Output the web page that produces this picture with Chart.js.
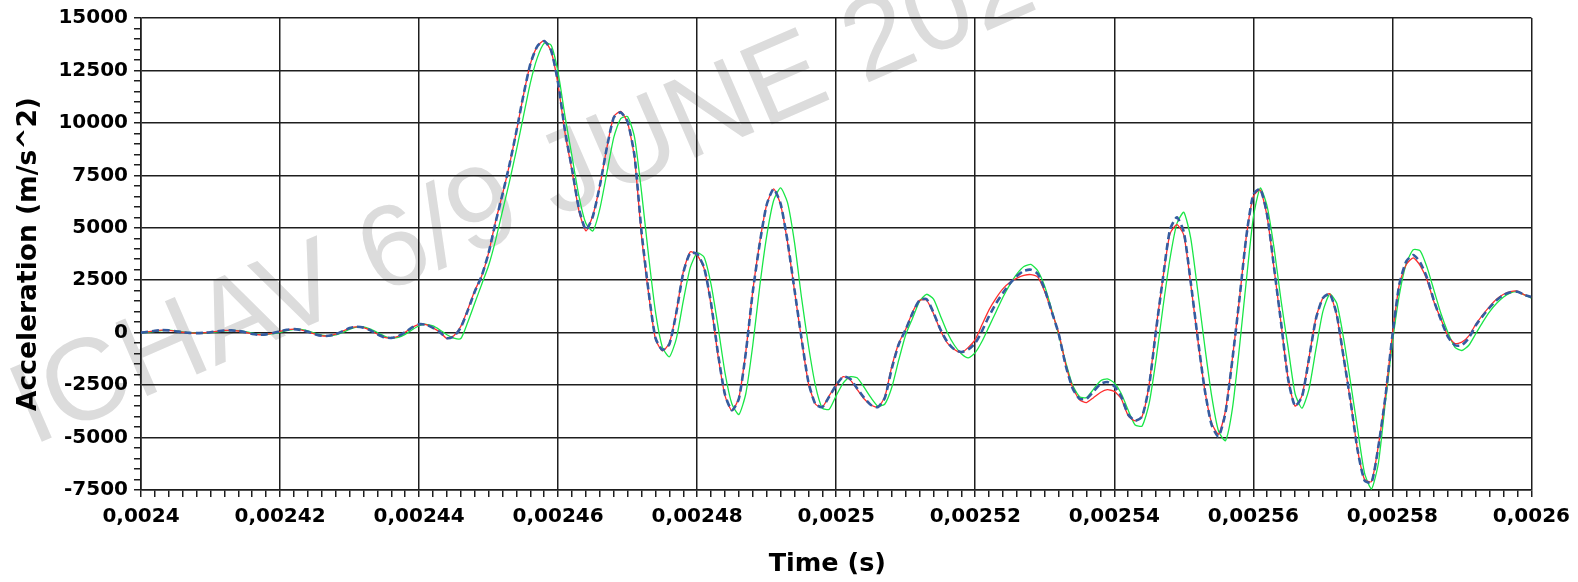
<!DOCTYPE html>
<html>
<head>
<meta charset="utf-8">
<script src="https://cdn.jsdelivr.net/npm/chart.js@4"></script>
<style>
  html, body { margin: 0; padding: 0; background: #fff; }
  #wrap { width: 1578px; height: 582px; }
</style>
</head>
<body>
<div id="wrap"><canvas id="accChart"></canvas></div>
<script>
// samples every 1 microsecond from 0.0024 s to 0.0026 s
var tStart = 0.0024;
var tStep = 0.000001;

var red = [
  0, 40, 90, 120, 110, 70, 20, -10, -20, -10,
  20, 70, 105, 110, 80, 20, -60, -100, -80, -20,
  60, 140, 170, 130, 40, -70, -150, -150, -70, 70,
  220, 280, 240, 110, -70, -220, -250, -170, 20, 250,
  400, 380, 230, 20, -280, -150, 300, 1100, 2000, 2700,
  3800, 5300, 6600, 8000, 9600, 11300, 12800, 13650, 13920, 13400,
  11800, 9500, 7700, 5800, 4850, 5600, 7000, 8800, 10300, 10550,
  10000, 8300, 4600, 1900, -300, -870, -500, 1000, 2900, 3850,
  3700, 3050, 1300, -1100, -3000, -3720, -3100, -900, 2000, 4300,
  6100, 6850, 6100, 4300, 2000, -300, -2400, -3400, -3550, -3000,
  -2500, -2100, -2250, -2700, -3150, -3450, -3560, -3050, -1600, -500,
  160, 1000, 1550, 1550, 900, 100, -500, -800, -950, -700,
  -320, 400, 1100, 1650, 2100, 2400, 2600, 2730, 2770, 2650,
  1950, 1000, 0, -1500, -2600, -3200, -3330, -3100, -2850, -2720,
  -2800, -3150, -3950, -4200, -4000, -2500, 200, 2600, 4700, 5150,
  4650, 2300, -300, -2700, -4300, -4840, -3700, -1200, 1600, 4600,
  6500, 6800, 5500, 3000, 400, -2200, -3500, -3000, -1200, 700,
  1650, 1850, 800, -1250, -3300, -5600, -7000, -7100, -5350, -3000,
  -100, 2300, 3250, 3570, 3200, 2500, 1450, 630, -160, -520,
  -450, -150, 400, 850, 1250, 1600, 1830, 1960, 1980, 1800,
  1700
];

var blue = [
  0, 40, 90, 120, 110, 70, 20, -10, -20, -10,
  20, 70, 105, 110, 80, 20, -60, -100, -80, -20,
  60, 140, 170, 130, 40, -70, -150, -150, -70, 70,
  220, 280, 240, 110, -70, -220, -250, -170, 20, 250,
  400, 380, 230, 20, -260, -180, 250, 1050, 1950, 2700,
  3800, 5250, 6600, 8000, 9600, 11300, 12800, 13650, 13900, 13450,
  11900, 9600, 7800, 5900, 4900, 5550, 7000, 8800, 10250, 10500,
  10050, 8400, 4800, 2000, -250, -820, -550, 950, 2850, 3800,
  3750, 3100, 1400, -1000, -2950, -3700, -3150, -950, 1950, 4250,
  6100, 6850, 6150, 4350, 2050, -250, -2350, -3400, -3550, -3050,
  -2500, -2100, -2200, -2650, -3100, -3450, -3550, -3100, -1700, -550,
  150, 950, 1550, 1600, 950, 150, -450, -800, -920, -800,
  -500, 100, 800, 1400, 1900, 2350, 2700, 2950, 3000, 2800,
  2050, 1000, -50, -1550, -2650, -3150, -3150, -2800, -2450, -2350,
  -2550, -3050, -3900, -4200, -4000, -2550, 100, 2600, 4900, 5500,
  4800, 2400, -250, -2700, -4400, -4950, -3800, -1250, 1600, 4600,
  6600, 6850, 5600, 3050, 450, -2200, -3500, -3050, -1250, 650,
  1650, 1850, 850, -1200, -3300, -5600, -7050, -7150, -5400, -3050,
  -150, 2300, 3400, 3700, 3350, 2600, 1500, 600, -200, -600,
  -600, -250, 350, 800, 1200, 1550, 1800, 1930, 1950, 1800,
  1700
];

var green = [
  0, 20, 60, 100, 120, 90, 40, 0, -20, -20,
  0, 40, 90, 110, 100, 50, -20, -80, -90, -50,
  20, 100, 160, 160, 90, -20, -120, -160, -110, 10,
  160, 260, 270, 170, 10, -160, -260, -230, -80, 140,
  330, 400, 320, 130, -100, -260, -280, 500, 1400, 2300,
  3200, 4400, 5800, 7200, 8700, 10300, 11900, 13100, 13800, 13700,
  12400, 10300, 8400, 6500, 5200, 4850, 5900, 7600, 9300, 10200,
  10300, 9300, 6700, 3700, 1000, -700, -1150, -300, 1500, 3100,
  3800, 3600, 2300, 300, -1900, -3400, -3900, -2900, -600, 2200,
  4600, 6300, 6900, 6200, 4300, 1700, -600, -2500, -3600, -3650,
  -3000, -2400, -2100, -2150, -2600, -3100, -3500, -3400, -2600, -1300,
  -100, 700, 1500, 1830, 1600, 800, 0, -600, -1000, -1200,
  -950, -400, 300, 1000, 1700, 2300, 2800, 3150, 3250, 2950,
  2200, 1100, -100, -1400, -2500, -3050, -3100, -2700, -2300, -2200,
  -2400, -2900, -3700, -4400, -4450, -3400, -1300, 1200, 3500, 5200,
  5740, 4500, 2000, -600, -3000, -4700, -5150, -3600, -700, 2500,
  5500, 6900, 6000, 4000, 1500, -700, -2900, -3600, -2700, -800,
  1000, 1850, 1400, -300, -2400, -4600, -6700, -7450, -6200, -3300,
  -500, 1800, 3300, 3950, 3900, 3100, 2000, 900, 0, -700,
  -850, -600, -50, 500, 1000, 1400, 1700, 1900, 1950, 1800,
  1650
];

var xMajorStep = 0.00002;
var yMajorStep = 2500;

function toPoints(arr) {
  return arr.map(function (v, i) { return { x: tStart + i * tStep, y: v }; });
}

function isMajorX(v) {
  var r = v / xMajorStep;
  return Math.abs(r - Math.round(r)) < 1e-4;
}

function fmtX(v) {
  return String(Number(v.toFixed(5))).replace('.', ',');
}

var watermark = {
  id: 'watermark',
  beforeDraw: function (chart) {
    var ctx = chart.ctx;
    ctx.save();
    ctx.translate(32, 446);
    ctx.rotate(-23.5 * Math.PI / 180);
    ctx.font = '116px "Liberation Sans", Arial, sans-serif';
    ctx.fillStyle = '#dcdcdc';
    ctx.textBaseline = 'alphabetic';
    ctx.fillText('ICHAV 6/9 JUNE 2023', 0, 0);
    ctx.restore();
  }
};

var tickFont = { family: 'DejaVu Sans', weight: 'bold', size: 20 };
var gridCol = '#1e1e1e';

var ctx = document.getElementById('accChart').getContext('2d');
var myChart = new Chart(ctx, {
  type: 'line',
  data: {
    datasets: [
      {
        data: toPoints(blue),
        borderColor: 'rgb(52, 92, 160)',
        borderWidth: 2.6,
        borderDash: [7, 4],
        pointRadius: 0,
        tension: 0.2
      },
      {
        data: toPoints(red),
        borderColor: 'rgb(255, 45, 45)',
        borderWidth: 1.3,
        pointRadius: 0,
        tension: 0.2
      },
      {
        data: toPoints(green),
        borderColor: 'rgb(25, 230, 70)',
        borderWidth: 1.3,
        pointRadius: 0,
        tension: 0.2
      }
    ]
  },
  options: {
    responsive: true,
    maintainAspectRatio: false,
    animation: false,
    layout: { padding: { top: 18, right: 44, left: 0, bottom: 0 } },
    plugins: {
      legend: { display: false },
      tooltip: { enabled: false }
    },
    scales: {
      x: {
        type: 'linear',
        min: 0.0024,
        max: 0.0026,
        afterFit: function (scale) { scale.height = 92; },
        ticks: {
          stepSize: 0.000002,
          autoSkip: false,
          maxRotation: 0,
          minRotation: 0,
          color: '#000',
          font: tickFont,
          padding: 8,
          callback: function (v) { return isMajorX(v) ? fmtX(v) : ''; }
        },
        grid: {
          color: function (c) { return c.tick && isMajorX(c.tick.value) ? gridCol : 'rgba(0,0,0,0)'; },
          tickColor: gridCol,
          lineWidth: 1.5,
          tickLength: 7
        },
        border: { color: gridCol, width: 1.6 },
        title: {
          display: true,
          text: 'Time (s)  ',
          color: '#000',
          font: { family: 'DejaVu Sans', weight: 'bold', size: 25.5 },
          padding: { top: 0, bottom: 2 }
        }
      },
      y: {
        min: -7500,
        max: 15000,
        afterFit: function (scale) { scale.width = 141; },
        ticks: {
          stepSize: 500,
          autoSkip: false,
          color: '#000',
          font: tickFont,
          padding: 6,
          callback: function (v) { return v % yMajorStep === 0 ? String(v) : ''; }
        },
        grid: {
          color: function (c) { return c.tick && c.tick.value % yMajorStep === 0 ? gridCol : 'rgba(0,0,0,0)'; },
          tickColor: gridCol,
          lineWidth: 1.5,
          tickLength: 7
        },
        border: { color: gridCol, width: 1.6 },
        title: {
          display: true,
          text: 'Acceleration (m/s^2)',
          color: '#000',
          font: { family: 'DejaVu Sans', weight: 'bold', size: 26.5 },
          padding: { top: 13, bottom: 0 }
        }
      }
    }
  },
  plugins: [watermark]
});
</script>
</body>
</html>
